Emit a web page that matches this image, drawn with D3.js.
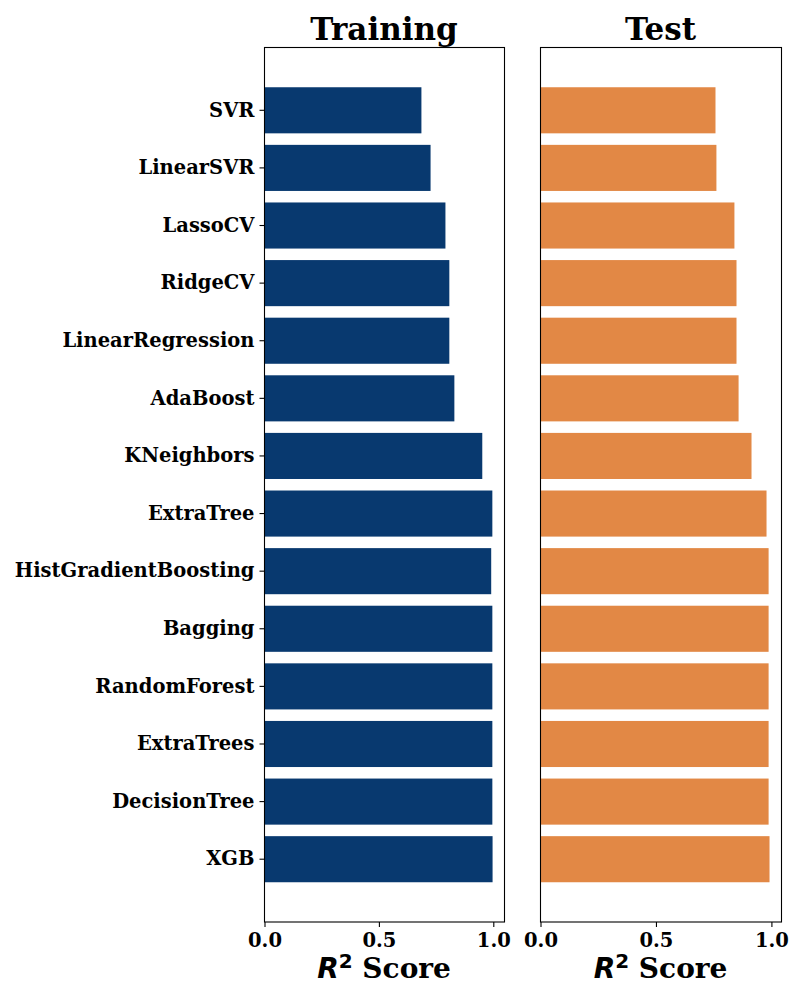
<!DOCTYPE html>
<html>
<head>
<meta charset="utf-8">
<script src="https://cdn.jsdelivr.net/npm/d3@7"></script>
<style>
  body { margin: 0; background: #fff; }
  svg text { font-family: "DejaVu Serif", serif; font-weight: bold; fill: #000; }
</style>
</head>
<body>
<svg id="body" width="800" height="1000"></svg>
<script>
let svg = d3.select("#body");

// models, top to bottom
let models = ["SVR", "LinearSVR", "LassoCV", "RidgeCV", "LinearRegression", "AdaBoost",
              "KNeighbors", "ExtraTree", "HistGradientBoosting", "Bagging", "RandomForest",
              "ExtraTrees", "DecisionTree", "XGB"];
let trainScores = [0.688, 0.728, 0.793, 0.810, 0.810, 0.832, 0.954, 0.998, 0.993, 0.998, 0.998, 0.998, 0.998, 0.999];
let testScores  = [0.760, 0.764, 0.842, 0.851, 0.851, 0.860, 0.916, 0.981, 0.990, 0.990, 0.990, 0.990, 0.990, 0.994];
let xTicks = [0, 0.5, 1.0];

let plotTop = 47.5, plotBottom = 922;
let labelSize = 19.5;

let y = d3.scaleBand()
          .domain(models)
          .range([plotTop, plotBottom])
          .paddingInner(0.2)
          .paddingOuter(0.69);

function panel(left, right, title, scores, color, showY) {
  let x = d3.scaleLinear()
            .domain([0, d3.max(scores) * 1.05])
            .range([left, right]);

  let g = svg.append('g');

  g.selectAll('rect.bar')
   .data(models)
   .enter()
   .append('rect')
   .attr('class', 'bar')
   .attr('x', x(0))
   .attr('y', d => y(d))
   .attr('width', (d, i) => x(scores[i]) - x(0))
   .attr('height', y.bandwidth())
   .attr('fill', color);

  // frame
  g.append('rect')
   .attr('x', left + 0.5).attr('y', plotTop)
   .attr('width', right - left).attr('height', plotBottom - plotTop)
   .attr('fill', 'none').attr('stroke', '#000').attr('stroke-width', 1.1);

  let xAxis = d3.axisBottom(x)
                .tickValues(xTicks)
                .tickFormat(d3.format('.1f'))
                .tickSizeInner(5).tickSizeOuter(0).tickPadding(6);
  let ax = g.append('g')
            .attr('transform', `translate(0.5,${plotBottom})`)
            .call(xAxis);
  ax.select('.domain').remove();
  ax.selectAll('text').attr('font-size', labelSize).attr('font-family', 'DejaVu Serif').attr('font-weight', 'bold').attr('fill', '#000');
  ax.selectAll('line').attr('stroke', '#000').attr('stroke-width', 1.1);

  if (showY) {
    let yAxis = d3.axisLeft(y).tickSizeInner(5).tickSizeOuter(0).tickPadding(5);
    let ay = g.append('g')
              .attr('transform', `translate(${left + 0.5},0)`)
              .call(yAxis);
    ay.select('.domain').remove();
    ay.selectAll('text').attr('font-size', labelSize).attr('font-family', 'DejaVu Serif').attr('font-weight', 'bold').attr('fill', '#000');
    ay.selectAll('line').attr('stroke', '#000').attr('stroke-width', 1.1);
  }

  let cx = (left + right) / 2;
  g.append('text')
   .attr('x', cx).attr('y', 40)
   .attr('text-anchor', 'middle')
   .attr('font-size', 31)
   .text(title);

  let xl = g.append('text')
            .attr('x', cx).attr('y', 978)
            .attr('text-anchor', 'middle')
            .attr('font-size', 28);
  xl.append('tspan')
    .attr('font-family', 'DejaVu Sans').attr('font-style', 'italic')
    .text('R');
  xl.append('tspan')
    .attr('font-family', 'DejaVu Sans').attr('font-size', 20).attr('dy', -10)
    .text('2');
  xl.append('tspan')
    .attr('dy', 10)
    .text('\u00a0Score');
}

panel(264, 504, 'Training', trainScores, '#08396f', true);
panel(540, 781, 'Test', testScores, '#e28845', false);
</script>
</body>
</html>
